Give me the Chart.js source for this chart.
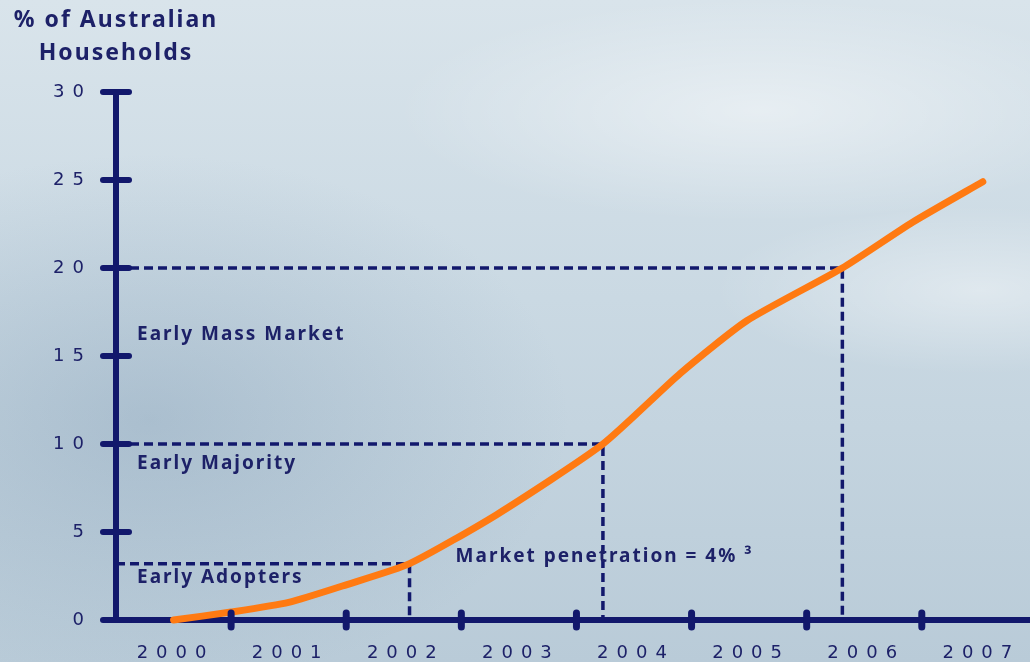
<!DOCTYPE html>
<html>
<head>
<meta charset="utf-8">
<script src="https://cdn.jsdelivr.net/npm/chart.js@4.4.1/dist/chart.umd.min.js"></script>
<style>
html, body { margin: 0; padding: 0; }
body {
    width: 1030px; height: 662px; overflow: hidden;
    background:
        radial-gradient(ellipse 520px 160px at 760px 110px, rgba(255,255,255,0.45), rgba(255,255,255,0) 70%),
        radial-gradient(ellipse 380px 120px at 980px 290px, rgba(255,255,255,0.40), rgba(255,255,255,0) 70%),
        radial-gradient(ellipse 600px 380px at 150px 420px, rgba(110,140,168,0.30), rgba(110,140,168,0) 70%),
        linear-gradient(180deg, #d9e4eb 0%, #cad9e3 45%, #b9cbd8 100%);
}
canvas { display: block; }
</style>
</head>
<body>
<canvas id="chart" width="1030" height="662"></canvas>
<script>
// Household take-up curve
const years = [2000, 2000.5, 2001, 2001.5, 2002.05, 2002.81, 2003.73, 2004.40, 2004.98, 2005.81, 2006.42, 2007.03];
const penetration = [0, 0.45, 1.0, 2.0, 3.2, 6.0, 10, 14.0, 17.0, 20, 22.6, 24.9];

// Year labels on the x axis
const yearLabels = [2000, 2001, 2002, 2003, 2004, 2005, 2006, 2007];
const yTicks = [0, 5, 10, 15, 20, 25, 30];

// Milestones marked by the dashed guides
const milestoneYears = [2002.05, 2003.73, 2005.81];
const milestoneLevels = [3.2, 10, 20];

// Phase names written along the y axis, and where they sit
const phaseNames = ['Early Adopters', 'Early Majority', 'Early Mass Market'];
const phaseLevels = [2.4, 8.9, 16.2];
const noteText = 'Market penetration = 4% \u00b3';
const noteAt = { year: 2002.45, level: 3.6 };

const titleLines = ['% of Australian', 'Households'];

const NAVY = '#12186c';
const TEXT = '#1d2168';
const ORANGE = '#ff7a12';
const X_MIN = 1999.5;
const X_MAX = 2007.44;

// one dashed guide per milestone: across from the axis, then down to zero
const guideSets = milestoneYears.map((yr, i) => ({
    data: [
        { x: X_MIN, y: milestoneLevels[i] },
        { x: yr, y: milestoneLevels[i] },
        { x: yr, y: 0 }
    ],
    borderColor: NAVY,
    borderWidth: 3.5,
    borderDash: [9, 5],
    pointRadius: 0,
    tension: 0,
    clip: false
}));

function crossMark(ctx, x, y, horizontal, half, thick) {
    ctx.save();
    ctx.strokeStyle = NAVY;
    ctx.lineWidth = thick;
    ctx.lineCap = 'round';
    ctx.beginPath();
    if (horizontal) {
        ctx.moveTo(x - half, y);
        ctx.lineTo(x + half, y);
    } else {
        ctx.moveTo(x, y - half);
        ctx.lineTo(x, y + half);
    }
    ctx.stroke();
    ctx.restore();
}

const slideDecor = {
    id: 'slideDecor',
    beforeUpdate(chart) { chart.ctx.letterSpacing = '8px'; },
    beforeDraw(chart) { chart.ctx.letterSpacing = '8px'; },
    afterDraw(chart) {
        const ctx = chart.ctx;
        const xs = chart.scales.x;
        const ys = chart.scales.y;

        // tick crosses on the y axis
        yTicks.forEach(v => crossMark(ctx, xs.left, ys.getPixelForValue(v), true, 13, 6));
        // tick crosses between the years on the x axis
        yearLabels.slice(0, -1).forEach(yr => {
            crossMark(ctx, xs.getPixelForValue(yr + 0.5), ys.bottom, false, 7, 7);
        });

        ctx.save();
        ctx.fillStyle = TEXT;
        ctx.textBaseline = 'middle';

        // axis title, centred over the y axis
        ctx.letterSpacing = '2px';
        ctx.font = 'bold 23px "Noto Sans"';
        ctx.textAlign = 'center';
        ctx.fillText(titleLines[0], xs.left, 20);
        ctx.fillText(titleLines[1], xs.left, 53);

        // phase names
        ctx.letterSpacing = '2px';
        ctx.font = 'bold 19px "Noto Sans"';
        ctx.textAlign = 'left';
        phaseNames.forEach((name, i) => {
            ctx.fillText(name, xs.left + 21, ys.getPixelForValue(phaseLevels[i]));
        });
        ctx.fillText(noteText, xs.getPixelForValue(noteAt.year), ys.getPixelForValue(noteAt.level));
        ctx.restore();
    }
};

new Chart(document.getElementById('chart'), {
    type: 'line',
    data: {
        datasets: [
            {
                data: years.map((yr, i) => ({ x: yr, y: penetration[i] })),
                borderColor: ORANGE,
                borderWidth: 7,
                pointRadius: 0,
                tension: 0.2,
                borderCapStyle: 'round',
                clip: false
            },
            ...guideSets
        ]
    },
    options: {
        responsive: false,
        animation: false,
        layout: { padding: { top: 92, left: 0, right: 0, bottom: 0 } },
        plugins: {
            legend: { display: false },
            tooltip: { enabled: false }
        },
        scales: {
            x: {
                type: 'linear',
                min: X_MIN,
                max: X_MAX,
                afterBuildTicks: s => { s.ticks = yearLabels.map(v => ({ value: v })); },
                afterFit: s => {
                    s.height = 42;
                    s.paddingLeft = 0;
                    s.paddingRight = 0;
                },
                grid: { display: false, drawTicks: false },
                border: { display: true, color: NAVY, width: 6 },
                ticks: {
                    autoSkip: false,
                    maxRotation: 0,
                    padding: 23,
                    labelOffset: 2,
                    color: TEXT,
                    font: { family: 'DejaVu Sans', size: 18 },
                    callback: v => String(v)
                }
            },
            y: {
                min: 0,
                max: 30,
                afterBuildTicks: s => { s.ticks = yTicks.map(v => ({ value: v })); },
                afterFit: s => { s.width = 116; },
                grid: { display: false, drawTicks: false },
                border: { display: true, color: NAVY, width: 6 },
                ticks: {
                    padding: 24,
                    color: TEXT,
                    font: { family: 'DejaVu Sans', size: 18 }
                }
            }
        }
    },
    plugins: [slideDecor]
});
</script>
</body>
</html>
